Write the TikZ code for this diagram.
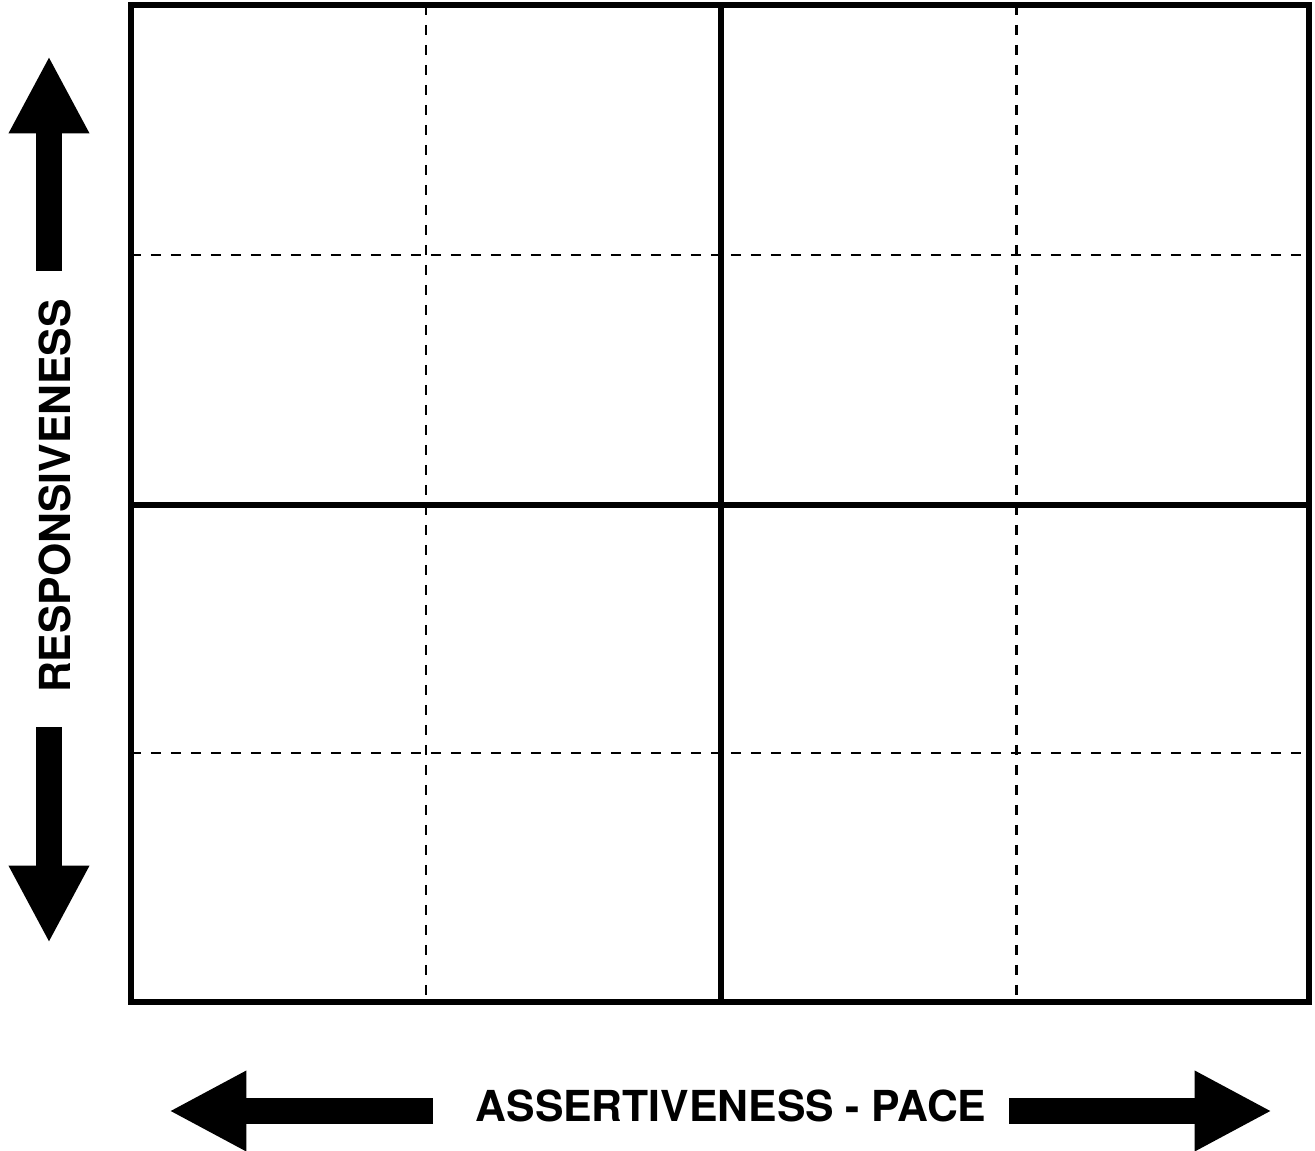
\documentclass[tikz,border=0pt]{standalone}
\usepackage{fontspec}
\setmainfont{TeX Gyre Heros}
\usetikzlibrary{arrows.meta, positioning}

\tikzset{
  bigarrow/.style={line width=0.52cm, -{Triangle[length=1.55cm, width=1.5cm]}},
  axislabel/.style={font=\fontsize{24.3}{29}\selectfont\bfseries, inner sep=0pt},
  gridline/.style={line width=3pt},
  helpline/.style={line width=1.7pt, dash pattern=on 0.2cm off 0.2cm},
}

\begin{document}
\begin{tikzpicture}[x=0.02cm, y=-0.02cm]
    % Khung hình
    \useasboundingbox (0,0) rectangle (1315,1151);

    % Lưới phụ (nét đứt)
    \foreach \x in {426,1016}
        \draw[helpline] (\x,5) -- (\x,1002);
    \foreach \y in {255,753}
        \draw[helpline] (131,\y) -- (1309,\y);

    % Lưới chính
    \draw[gridline] (721,5) -- (721,1002);
    \draw[gridline] (131,505) -- (1309,505);
    \draw[gridline] (131,5) rectangle (1309,1002);

    % Nhãn trục
    \node[axislabel, rotate=90] (resp) at (55,496) {RESPONSIVENESS};
    \node[axislabel] (pace) at (731,1106) {ASSERTIVENESS - PACE};

    % Đầu mút các mũi tên
    \coordinate (upbase) at (49,271);
    \coordinate (uptip) at (49,56);
    \coordinate (downbase) at (49,727);
    \coordinate (downtip) at (49,943);
    \coordinate (leftbase) at (433,1111);
    \coordinate (lefttip) at (169,1111);
    \coordinate (rightbase) at (1009,1111);
    \coordinate (righttip) at (1272,1111);

    % Mũi tên lớn
    \draw[bigarrow] (upbase) -- (uptip);
    \draw[bigarrow] (downbase) -- (downtip);
    \draw[bigarrow] (leftbase) -- (lefttip);
    \draw[bigarrow] (rightbase) -- (righttip);
\end{tikzpicture}
\end{document}
